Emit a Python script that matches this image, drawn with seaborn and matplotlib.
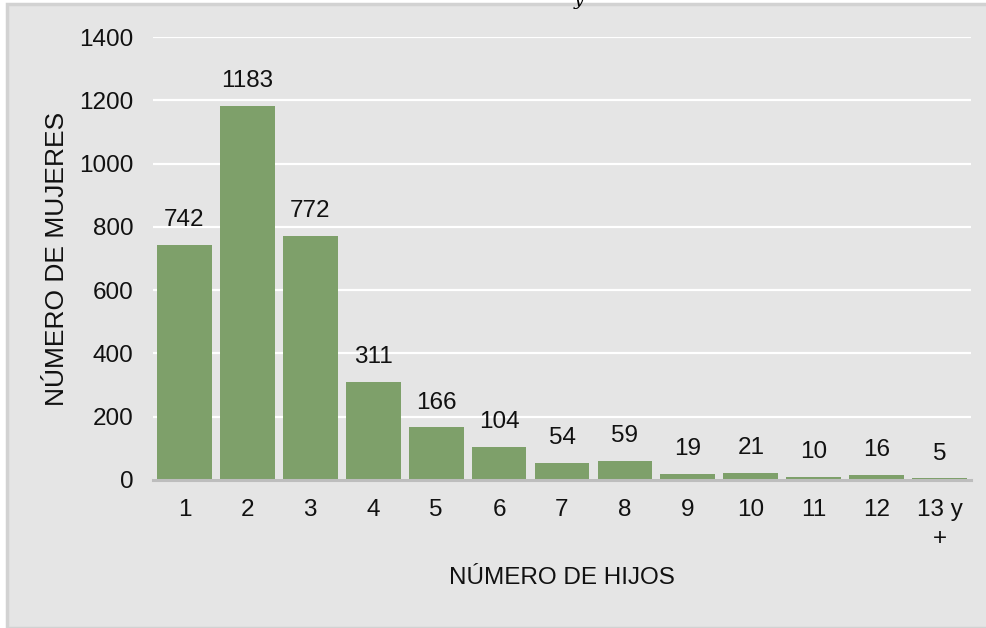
import matplotlib
matplotlib.use('Agg')
import matplotlib.pyplot as plt
import seaborn as sns
import pandas as pd
from matplotlib.patches import Rectangle

# Datos
hijos = ['1', '2', '3', '4', '5', '6', '7', '8', '9', '10', '11', '12', '13 y\n+']
mujeres = [742, 1183, 772, 311, 166, 104, 54, 59, 19, 21, 10, 16, 5]
y_ticks = [0, 200, 400, 600, 800, 1000, 1200, 1400]

sns.set_style('white')
plt.rcParams['font.family'] = ['Liberation Sans', 'DejaVu Sans']

bg = '#e5e5e5'
bar_color = '#7ea06a'
fs = 17.5

fig = plt.figure(figsize=(9.87, 6.28), dpi=100, facecolor='white')
# marco gris de fondo
fig.patches.append(Rectangle((7 / 987, 0), 1, (628 - 4) / 628, transform=fig.transFigure,
                             facecolor=bg, edgecolor='#d2d2d2', linewidth=2.5, zorder=-1))
# resto del título cortado arriba
fig.text(579 / 987, 1.0, 'y', family='DejaVu Serif', style='italic', fontsize=13,
         ha='center', va='center', color='black', zorder=5)

ax = fig.add_axes([153 / 987, (628 - 480) / 628, (971 - 153) / 987, (480 - 37) / 628])
ax.set_facecolor(bg)

df = pd.DataFrame({'hijos': hijos, 'mujeres': mujeres})
sns.barplot(data=df, x='hijos', y='mujeres', color=bar_color, saturation=1,
            width=0.87, linewidth=0, edgecolor='none', ax=ax, zorder=3)

ax.bar_label(ax.containers[0], padding=10, fontsize=fs, color='#111111')

ax.set_ylim(0, 1400)
ax.set_xlim(-0.5, len(hijos) - 0.5)
ax.set_yticks(y_ticks)
ax.yaxis.grid(True, color='white', linewidth=1.6, zorder=0)
ax.set_axisbelow(True)

for s in ['top', 'right', 'left']:
    ax.spines[s].set_visible(False)
ax.spines['bottom'].set_color('#bdbdbd')
ax.spines['bottom'].set_linewidth(2.2)
ax.spines['bottom'].set_zorder(4)

ax.tick_params(axis='both', length=0, labelsize=fs, colors='#111111')
ax.tick_params(axis='y', pad=14)
ax.tick_params(axis='x', pad=14)
for lbl in ax.get_xticklabels():
    lbl.set_linespacing(1.4)
    lbl.set_verticalalignment('top')

ax.set_xlabel('NÚMERO DE HIJOS', fontsize=fs, labelpad=12, color='#111111')
ax.set_ylabel('NÚMERO DE MUJERES', fontsize=19, labelpad=7, color='#111111')

fig.savefig('out.png', dpi=100, facecolor=fig.get_facecolor())
